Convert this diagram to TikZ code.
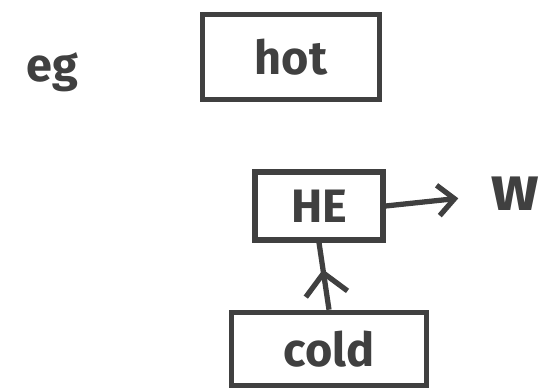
\documentclass[tikz,border=0pt]{standalone}
\usepackage{fontspec}
\setmainfont{Fira Sans}
\usetikzlibrary{arrows.meta, shapes, decorations.markings}

\begin{document}
\begin{tikzpicture}[auto,
  reservoir/.style ={draw=black!75, line width=4.5pt, rectangle,
    text=black!75, font=\fontsize{40}{40}\selectfont\bfseries},
  %
  engine/.style ={draw=black!75, line width=4.5pt, rectangle,
    text=black!75, font=\fontsize{40}{40}\selectfont\bfseries},
  %
  flow/.style ={draw=black!75, line width=4.5pt,
    -{Straight Barb[length=14pt, width=26pt, line width=4.5pt]}},
  midflow/.style ={draw=black!75, line width=4.5pt, postaction={decorate},
    decoration={markings, mark=at position 0.6 with
      {\arrow{Straight Barb[length=18pt, width=36pt, line width=4.5pt]}}}},
  label/.style ={text=black!75, font=\fontsize{40}{40}\selectfont\bfseries} ]

  \useasboundingbox (0,0) rectangle (16.56,11.67);

  \node [label](eg) at (1.56,9.5){eg};

  %%%%%%%%%%%%%%%%%%%%%%%%%%%%%%%
  \node [reservoir, minimum width=5.3cm, minimum height=2.55cm]
    (hot) at (8.73,9.96){hot};
  \node [engine, minimum width=3.84cm, minimum height=2.04cm]
    (HE) at (9.57,5.49){HE};
  \node [reservoir, minimum width=5.85cm, minimum height=2.2cm]
    (cold) at (9.87,1.2){cold};
  %%%%%%%%%%%%%%%%%%%%%%%%%%%%%%%

  \node [label, font=\fontsize{54}{54}\selectfont\bfseries](w) at (15.45,5.85){w};
  \coordinate (wEnd) at (13.75,5.72);

  \draw [flow] (HE.east) -- (wEnd);
  \draw [midflow] (cold.north) -- (HE.south);

\end{tikzpicture}
\end{document}
